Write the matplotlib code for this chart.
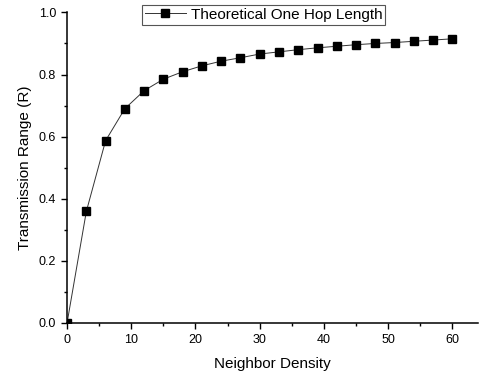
import numpy as np
import matplotlib.pyplot as plt
from matplotlib.ticker import MultipleLocator

plt.rcParams['font.family'] = ['Liberation Sans', 'DejaVu Sans']

# Data
density = [0, 3, 6, 9, 12, 15, 18, 21, 24, 27, 30, 33, 36, 39, 42, 45, 48, 51, 54, 57, 60]
hop_length = [0.0, 0.359, 0.587, 0.690, 0.748, 0.785, 0.809, 0.828, 0.843, 0.854, 0.866,
              0.873, 0.880, 0.886, 0.891, 0.896, 0.900, 0.903, 0.907, 0.911, 0.915]

fig = plt.figure(figsize=(4.79, 3.76), dpi=100)
ax = fig.add_axes([0.14, 0.141, 0.858, 0.826])

ax.plot(density, hop_length, color='#333333', linewidth=0.7,
        marker='s', markersize=5.3, markerfacecolor='black', markeredgecolor='black',
        label='Theoretical One Hop Length')

ax.set_xlim(0, 64)
ax.set_ylim(0, 1.0)
ax.xaxis.set_major_locator(MultipleLocator(10))
ax.xaxis.set_minor_locator(MultipleLocator(5))
ax.yaxis.set_major_locator(MultipleLocator(0.2))
ax.yaxis.set_minor_locator(MultipleLocator(0.1))
ax.yaxis.set_major_formatter(plt.FormatStrFormatter('%.1f'))

for side in ['top', 'right']:
    ax.spines[side].set_visible(False)
for side in ['left', 'bottom']:
    ax.spines[side].set_linewidth(1.1)
    ax.spines[side].set_clip_on(False)

ax.tick_params(which='major', direction='out', length=4.5, width=1.0, labelsize=9)
ax.tick_params(which='minor', direction='out', length=2.5, width=1.0)

ax.set_xlabel('Neighbor Density', fontsize=11, labelpad=8)
ax.set_ylabel('Transmission Range (R)', fontsize=11, labelpad=5)

leg = fig.legend(loc='upper center', bbox_to_anchor=(0.55, 0.988), fontsize=11,
                 fancybox=False, edgecolor='#555555', framealpha=1,
                 handlelength=2.7, borderpad=0.2, handletextpad=0.3,
                 borderaxespad=0)
leg.get_frame().set_linewidth(0.8)

plt.savefig('out.png', dpi=100)
